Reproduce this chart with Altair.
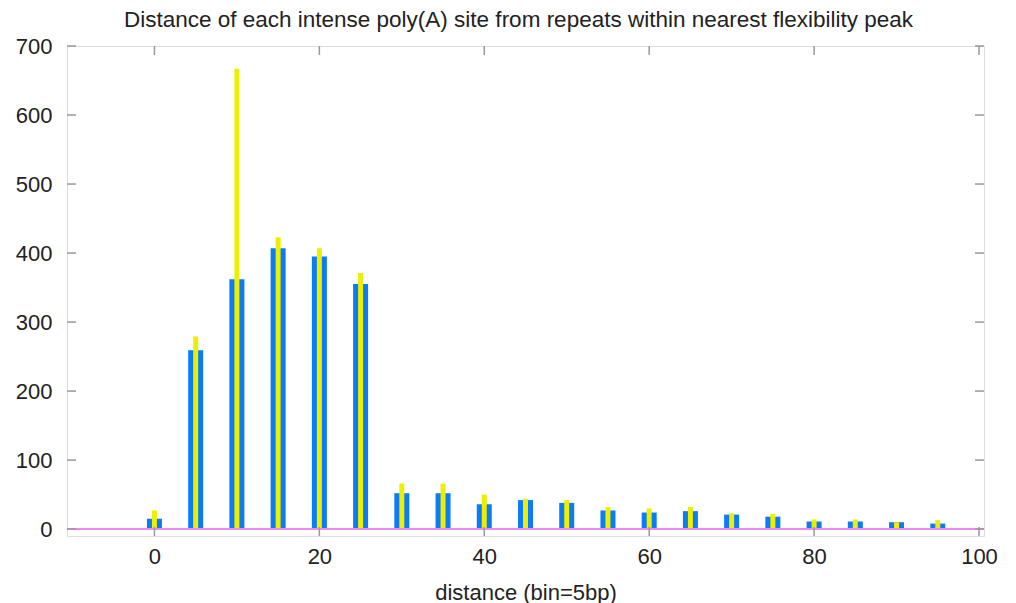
import altair as alt
import pandas as pd

bins = [0, 5, 10, 15, 20, 25, 30, 35, 40, 45, 50, 55, 60, 65, 70, 75, 80, 85, 90, 95]
blue_vals = [15, 259, 362, 407, 395, 355, 52, 52, 36, 42, 38, 27, 24, 26, 21, 18, 11, 11, 10, 8]
yellow_vals = [27, 279, 667, 423, 407, 371, 66, 66, 50, 44, 42, 32, 30, 32, 23, 22, 14, 14, 10, 13]
x_ticks = [0, 20, 40, 60, 80, 100]
y_ticks = [0, 100, 200, 300, 400, 500, 600, 700]
title_text = "Distance of each intense poly(A) site from repeats within nearest flexibility peak"

W, H = 917, 490
FONT = "Liberation Sans"
GREY = "#999999"

df = pd.DataFrame({"bin": bins, "blue": blue_vals, "yellow": yellow_vals})
xt = pd.DataFrame({"v": x_ticks})
yt = pd.DataFrame({"v": y_ticks})

xscale = alt.Scale(domain=[-10, 100], nice=False, zero=False)
yscale = alt.Scale(domain=[-10, 700], nice=False, zero=False)

xaxis = alt.Axis(values=x_ticks, grid=False, ticks=False, domain=False,
                 labelFontSize=22, labelFont=FONT, labelColor="#222222", labelPadding=10,
                 title="distance (bin=5bp)", titleFontSize=22, titleFont=FONT,
                 titleFontWeight="normal", titleColor="#222222", titlePadding=15)
yaxis = alt.Axis(values=y_ticks, grid=False, ticks=False, domain=False,
                 labelFontSize=22, labelFont=FONT, labelColor="#222222", labelPadding=15,
                 title=None)

base = alt.Chart(df)

blue = base.mark_bar(color="#0a7cf5", size=15).encode(
    x=alt.X("bin:Q", scale=xscale, axis=xaxis),
    y=alt.Y("blue:Q", scale=yscale, axis=yaxis),
    y2=alt.Y2(datum=0),
)
yellow = base.mark_bar(color="#eeee00", size=5).encode(
    x=alt.X("bin:Q", scale=xscale),
    y=alt.Y("yellow:Q", scale=yscale),
    y2=alt.Y2(datum=0),
)
zero_line = alt.Chart(pd.DataFrame({"z": [0]})).mark_rule(color="#ee88ee", strokeWidth=2).encode(
    y=alt.Y("z:Q", scale=yscale),
    x=alt.value(0), x2=alt.value(W),
)

tick_style = dict(color=GREY, strokeWidth=1.5)
left_ticks = alt.Chart(yt).mark_rule(**tick_style).encode(
    y=alt.Y("v:Q", scale=yscale), x=alt.value(0), x2=alt.value(9))
right_ticks = alt.Chart(yt).mark_rule(**tick_style).encode(
    y=alt.Y("v:Q", scale=yscale), x=alt.value(W - 9), x2=alt.value(W))
bottom_ticks = alt.Chart(xt).mark_rule(**tick_style).encode(
    x=alt.X("v:Q", scale=xscale), y=alt.value(H - 9), y2=alt.value(H))
top_ticks = alt.Chart(xt).mark_rule(**tick_style).encode(
    x=alt.X("v:Q", scale=xscale), y=alt.value(0), y2=alt.value(9))

title = alt.Chart(pd.DataFrame({"t": [title_text]})).mark_text(
    font=FONT, fontSize=22.5, color="#222222", align="center", baseline="alphabetic"
).encode(text="t:N", x=alt.value(451.5), y=alt.value(-19))

chart = alt.layer(
    blue, yellow, zero_line, left_ticks, right_ticks, bottom_ticks, top_ticks, title
).properties(
    width=W, height=H,
    autosize=alt.AutoSizeParams(type="none"),
    padding={"left": 59, "top": 38, "right": 24, "bottom": 70},
).configure_view(
    stroke=GREY, strokeWidth=2
).configure(background="white")

chart.save("out.html", embed_options={"renderer": "svg", "actions": False})
